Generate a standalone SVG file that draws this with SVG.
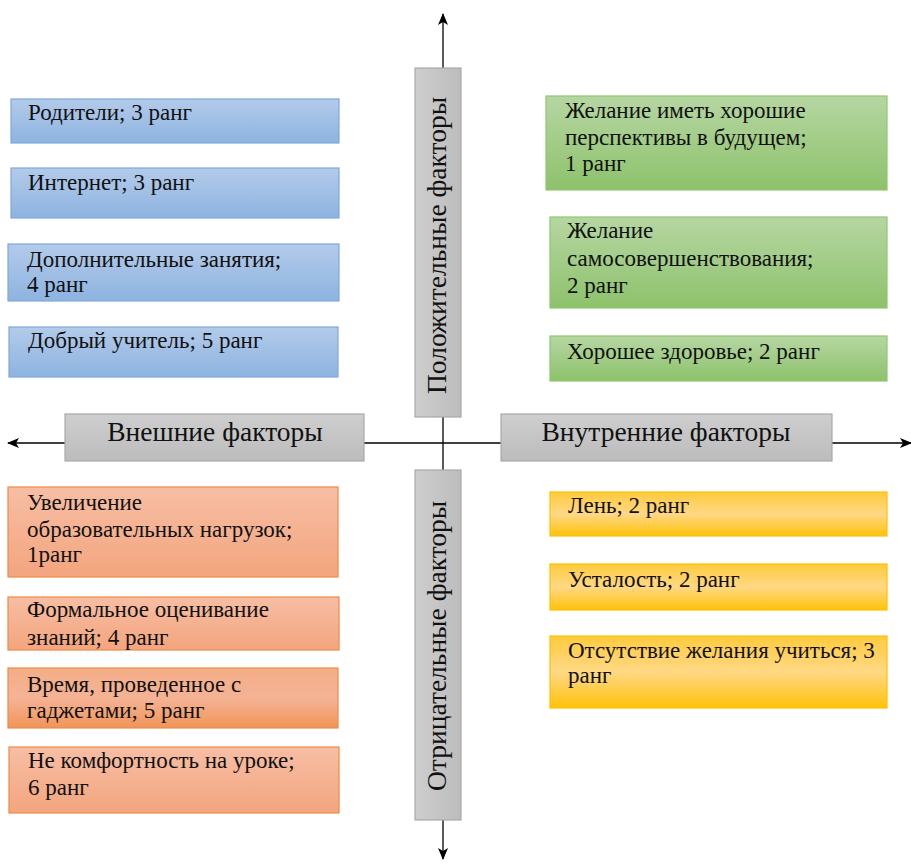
<svg xmlns="http://www.w3.org/2000/svg" width="911" height="863" viewBox="0 0 911 863">
<defs>
<linearGradient id="gBlue" x1="0" y1="0" x2="0" y2="1"><stop offset="0" stop-color="#b3cbea"/><stop offset="1" stop-color="#8db3e0"/></linearGradient>
<linearGradient id="gGreen" x1="0" y1="0" x2="0" y2="1"><stop offset="0" stop-color="#b6d6a2"/><stop offset="1" stop-color="#8dc26b"/></linearGradient>
<linearGradient id="gOrange" x1="0" y1="0" x2="0" y2="1"><stop offset="0" stop-color="#f7bea4"/><stop offset="1" stop-color="#f3a57e"/></linearGradient>
<linearGradient id="gOrange2" x1="0" y1="0" x2="0" y2="1"><stop offset="0" stop-color="#f4ad86"/><stop offset="0.5" stop-color="#f5b395"/><stop offset="1" stop-color="#f09558"/></linearGradient>
<linearGradient id="gYellow" x1="0" y1="0" x2="0" y2="1"><stop offset="0" stop-color="#ffcb3c"/><stop offset="0.5" stop-color="#ffd885"/><stop offset="1" stop-color="#ffc20a"/></linearGradient>
<linearGradient id="gGray" x1="0" y1="0" x2="0" y2="1"><stop offset="0" stop-color="#cecece"/><stop offset="1" stop-color="#bcbcbc"/></linearGradient>
<linearGradient id="gGrayV" x1="0" y1="0" x2="1" y2="0"><stop offset="0" stop-color="#cecece"/><stop offset="1" stop-color="#bcbcbc"/></linearGradient>
<marker id="arr" viewBox="0 0 12 10" refX="11" refY="5" markerWidth="12" markerHeight="10" markerUnits="userSpaceOnUse" orient="auto">
<path d="M0,0 L12,5 L0,10 L3,5 Z" fill="#000"/>
</marker>
<clipPath id="clipO2"><rect x="8" y="597" width="331" height="53"/></clipPath>
</defs>
<style>
text{font-family:'Liberation Serif','DejaVu Serif',serif;fill:#111;}
.t{font-size:23px;}
.big{font-size:27.5px;}
.blue{fill:url(#gBlue);stroke:#7ea8da;stroke-width:1.2;}
.green{fill:url(#gGreen);stroke:#8ec66e;stroke-width:1.2;}
.orange{fill:url(#gOrange);stroke:#ef8a45;stroke-width:1.2;}
.yellow{fill:url(#gYellow);stroke:#ffc000;stroke-width:1.2;}
.gray{fill:url(#gGray);stroke:#a9a9a9;stroke-width:1.2;}
.grayv{fill:url(#gGrayV);stroke:#a9a9a9;stroke-width:1.2;}
.ax{stroke:#000;stroke-width:1.3;fill:none;}
</style>
<rect width="911" height="863" fill="#fff"/>

<g id="connectors">
<line class="ax" x1="443" y1="445" x2="443" y2="14" marker-end="url(#arr)"/>
<line class="ax" x1="443" y1="445" x2="443" y2="859" marker-end="url(#arr)"/>
<line class="ax" x1="443" y1="443" x2="8" y2="443" marker-end="url(#arr)"/>
<line class="ax" x1="443" y1="443" x2="911" y2="443" marker-end="url(#arr)"/>
</g>

<g id="axis-positive">
<rect class="grayv" x="415" y="68" width="46" height="349"/>
<text class="big" transform="translate(446,394) rotate(-90)">Положительные факторы</text>
</g>
<g id="axis-negative">
<rect class="grayv" x="415" y="470" width="46" height="350"/>
<text class="big" transform="translate(446,791) rotate(-90)">Отрицательные факторы</text>
</g>
<g id="axis-external">
<rect class="gray" x="65" y="414" width="299" height="47"/>
<text class="big" x="215" y="441" text-anchor="middle">Внешние факторы</text>
</g>
<g id="axis-internal">
<rect class="gray" x="501" y="414" width="331" height="47"/>
<text class="big" x="666" y="441" text-anchor="middle">Внутренние факторы</text>
</g>

<g id="b1"><rect class="blue" x="11" y="99" width="328" height="44"/><text class="t" x="28" y="120">Родители; 3 ранг</text></g>
<g id="b2"><rect class="blue" x="11" y="168" width="328" height="50"/><text class="t" x="28" y="190">Интернет; 3 ранг</text></g>
<g id="b3"><rect class="blue" x="8" y="244" width="331" height="57"/><text class="t" x="27" y="267">Дополнительные занятия;</text><text class="t" x="27" y="292">4 ранг</text></g>
<g id="b4"><rect class="blue" x="9" y="327" width="329" height="50"/><text class="t" x="28" y="348">Добрый учитель; 5 ранг</text></g>

<g id="g1"><rect class="green" x="546" y="96" width="341" height="94"/><text class="t" x="565" y="118">Желание иметь хорошие</text><text class="t" x="565" y="145">перспективы в будущем;</text><text class="t" x="565" y="171">1 ранг</text></g>
<g id="g2"><rect class="green" x="550" y="217" width="337" height="91"/><text class="t" x="567" y="238">Желание</text><text class="t" x="567" y="266">самосовершенствования;</text><text class="t" x="567" y="293">2 ранг</text></g>
<g id="g3"><rect class="green" x="550" y="336" width="337" height="45"/><text class="t" x="567" y="359">Хорошее здоровье; 2 ранг</text></g>

<g id="o1"><rect class="orange" x="8" y="487" width="330" height="90"/><text class="t" x="27" y="510">Увеличение</text><text class="t" x="27" y="537">образовательных нагрузок;</text><text class="t" x="27" y="562">1ранг</text></g>
<g id="o2"><rect class="orange" x="8" y="597" width="331" height="53"/><g clip-path="url(#clipO2)"><text class="t" x="27" y="617">Формальное оценивание</text><text class="t" x="27" y="645">знаний; 4 ранг</text></g></g>
<g id="o3"><rect class="orange" x="8" y="668" width="330" height="60" style="fill:url(#gOrange2)"/><text class="t" x="27" y="692">Время, проведенное с</text><text class="t" x="27" y="718">гаджетами; 5 ранг</text></g>
<g id="o4"><rect class="orange" x="9" y="747" width="330" height="66"/><text class="t" x="28" y="768">Не комфортность на уроке;</text><text class="t" x="28" y="795">6 ранг</text></g>

<g id="y1"><rect class="yellow" x="550" y="492" width="337" height="44"/><text class="t" x="568" y="513">Лень; 2 ранг</text></g>
<g id="y2"><rect class="yellow" x="550" y="564" width="337" height="46"/><text class="t" x="568" y="587">Усталость; 2 ранг</text></g>
<g id="y3"><rect class="yellow" x="550" y="636" width="337" height="72"/><text class="t" x="568" y="658">Отсутствие желания учиться; 3</text><text class="t" x="568" y="683">ранг</text></g>
</svg>
